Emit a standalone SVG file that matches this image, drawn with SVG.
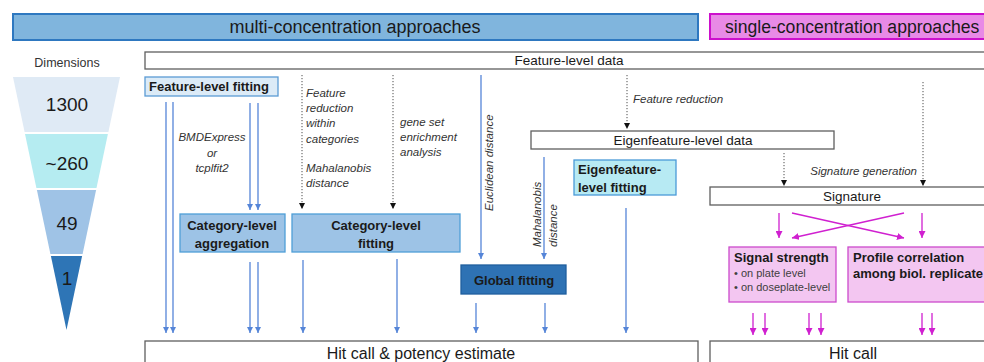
<svg xmlns="http://www.w3.org/2000/svg" width="984" height="362" viewBox="0 0 984 362">
<defs>
<marker id="ab" markerUnits="userSpaceOnUse" markerWidth="6" markerHeight="6" refX="6" refY="3" orient="auto"><path d="M0,0 L6,3 L0,6 z" fill="#5585d8"/></marker>
<marker id="ak" markerUnits="userSpaceOnUse" markerWidth="6" markerHeight="6" refX="6" refY="3" orient="auto"><path d="M0,0 L6,3 L0,6 z" fill="#111"/></marker>
<marker id="am" markerUnits="userSpaceOnUse" markerWidth="7" markerHeight="7" refX="7" refY="3.5" orient="auto"><path d="M0,0 L7,3.5 L0,7 z" fill="#d020d0"/></marker>
<style>
text{font-family:"Liberation Sans",Arial,sans-serif;fill:#1a1a1a}
.b{font-weight:bold;font-size:13px}
.c{text-anchor:middle}
.i{font-style:italic;font-size:11.5px;fill:#333}
.blue{stroke:#5585d8;stroke-width:1.3;fill:none;marker-end:url(#ab)}
.dot{stroke:#222;stroke-width:0.8;stroke-dasharray:1.2 1.8;fill:none;marker-end:url(#ak)}
.mag{stroke:#d020d0;stroke-width:1.3;fill:none;marker-end:url(#am)}
.data{fill:#fff;stroke:#5f5f5f;stroke-width:1.3}
.catbox{fill:#9dc3e6;stroke:#4f9fd8;stroke-width:1.3}
.pink{fill:#f3c6f1;stroke:#cc4acc;stroke-width:1.3}
</style>
</defs>

<g id="header-multi">
<rect x="13" y="14" width="685" height="26" fill="#80b5dd" stroke="#2e78c0" stroke-width="2"/>
<text x="355" y="33" class="c" style="font-size:18px">multi-concentration approaches</text>
</g>
<g id="header-single">
<rect x="710" y="14" width="290" height="25" fill="#e88ae6" stroke="#cc10cc" stroke-width="2"/>
<text x="725" y="33" style="font-size:17.6px">single-concentration approaches</text>
</g>

<g id="dimensions">
<text x="67" y="67" class="c" style="font-size:12.5px;fill:#333">Dimensions</text>
<polygon points="13,77 120,77 108.4,132 24.6,132" fill="#dfeaf5"/>
<polygon points="25,134 107.9,134 96.5,188 36.4,188" fill="#b5ecf1"/>
<polygon points="36.9,190 96.1,190 82.6,254 50.4,254" fill="#9fc3e6"/>
<polygon points="50.9,256 82.1,256 66.5,330" fill="#2e75b6"/>
<text x="67" y="111" class="c" style="font-size:19px">1300</text>
<text x="67" y="170" class="c" style="font-size:19px">~260</text>
<text x="67" y="230" class="c" style="font-size:19px">49</text>
<text x="67" y="285" class="c" style="font-size:19px">1</text>
</g>

<g id="feature-level-data">
<rect x="145" y="52" width="850" height="17" class="data"/>
<text x="569" y="65" class="c" style="font-size:13.5px">Feature-level data</text>
</g>

<g id="feature-level-fitting">
<rect x="145" y="77" width="133" height="19" fill="#dcebf7" stroke="#5b9bd5" stroke-width="1.3"/>
<text x="149" y="91" class="b">Feature-level fitting</text>
</g>

<g id="category-level-aggregation">
<rect x="180" y="214" width="105" height="38" class="catbox"/>
<text x="232" y="230" class="b c">Category-level</text>
<text x="232" y="248" class="b c">aggregation</text>
</g>

<g id="category-level-fitting">
<rect x="292" y="214" width="168" height="38" class="catbox"/>
<text x="376" y="230" class="b c">Category-level</text>
<text x="376" y="248" class="b c">fitting</text>
</g>

<g id="global-fitting">
<rect x="461" y="265" width="105" height="29" fill="#2e72b4" stroke="#1f5f9e" stroke-width="1.3"/>
<text x="514" y="285" class="b c">Global fitting</text>
</g>

<g id="eigenfeature-level-data">
<rect x="531" y="131" width="303" height="18" class="data"/>
<text x="683" y="145" class="c" style="font-size:13.5px">Eigenfeature-level data</text>
</g>

<g id="eigenfeature-level-fitting">
<rect x="574" y="160" width="102" height="35" fill="#b7eaf3" stroke="#4a9ad8" stroke-width="1.3"/>
<text x="578" y="174" class="b">Eigenfeature-</text>
<text x="578" y="192" class="b">level fitting</text>
</g>

<g id="signature">
<rect x="710" y="187" width="285" height="18" class="data"/>
<text x="852" y="201" class="c" style="font-size:13.5px">Signature</text>
</g>

<g id="signal-strength">
<rect x="729" y="247" width="107" height="55" class="pink"/>
<text x="734" y="262" class="b">Signal strength</text>
<text x="734" y="277" style="font-size:11px;fill:#404040">• on plate level</text>
<text x="734" y="291" style="font-size:11px;fill:#404040">• on doseplate-level</text>
</g>

<g id="profile-correlation">
<rect x="848" y="247" width="150" height="55" class="pink"/>
<text x="853" y="262" class="b">Profile correlation</text>
<text x="853" y="278" class="b">among biol. replicate</text>
</g>

<g id="hit-call-potency">
<rect x="145" y="341" width="553" height="30" class="data"/>
<text x="421" y="359" class="c" style="font-size:16px">Hit call &amp; potency estimate</text>
</g>

<g id="hit-call">
<rect x="710" y="341" width="285" height="30" class="data"/>
<text x="853" y="359" class="c" style="font-size:16px">Hit call</text>
</g>

<g id="connectors">
<line x1="166" y1="102" x2="166" y2="333" class="blue"/>
<line x1="173" y1="102" x2="173" y2="333" class="blue"/>
<line x1="250" y1="103" x2="250" y2="210" class="blue"/>
<line x1="258" y1="103" x2="258" y2="210" class="blue"/>
<line x1="250" y1="262" x2="250" y2="333" class="blue"/>
<line x1="258" y1="262" x2="258" y2="333" class="blue"/>
<line x1="303" y1="260" x2="303" y2="333" class="blue"/>
<line x1="397" y1="259" x2="397" y2="333" class="blue"/>
<line x1="481" y1="75" x2="481" y2="259" class="blue"/>
<line x1="544" y1="157" x2="544" y2="259" class="blue"/>
<line x1="476" y1="303" x2="476" y2="333" class="blue"/>
<line x1="545" y1="303" x2="545" y2="333" class="blue"/>
<line x1="626" y1="208" x2="626" y2="333" class="blue"/>

<line x1="302" y1="75" x2="302" y2="209" class="dot"/>
<line x1="393" y1="75" x2="393" y2="209" class="dot"/>
<line x1="627" y1="75" x2="627" y2="129" class="dot"/>
<line x1="784" y1="153" x2="784" y2="186" class="dot"/>
<line x1="923" y1="82" x2="923" y2="186" class="dot"/>

<line x1="779" y1="213" x2="779" y2="238" class="mag"/>
<line x1="922" y1="213" x2="922" y2="238" class="mag"/>
<line x1="792" y1="213" x2="904" y2="238" class="mag"/>
<line x1="904" y1="213" x2="792" y2="238" class="mag"/>
<line x1="753" y1="313" x2="753" y2="335" class="mag"/>
<line x1="765" y1="313" x2="765" y2="335" class="mag"/>
<line x1="809" y1="313" x2="809" y2="335" class="mag"/>
<line x1="821" y1="313" x2="821" y2="335" class="mag"/>
<line x1="922" y1="313" x2="922" y2="335" class="mag"/>
<line x1="932" y1="313" x2="932" y2="335" class="mag"/>

<text x="212" y="141" class="i c">BMDExpress</text>
<text x="212" y="157" class="i c">or</text>
<text x="212" y="172" class="i c">tcplfit2</text>
<text x="306" y="97" class="i">Feature</text>
<text x="306" y="112" class="i">reduction</text>
<text x="306" y="127" class="i">within</text>
<text x="306" y="143" class="i">categories</text>
<text x="306" y="172" class="i">Mahalanobis</text>
<text x="306" y="187" class="i">distance</text>
<text x="400" y="126" class="i">gene set</text>
<text x="400" y="141" class="i">enrichment</text>
<text x="400" y="156" class="i">analysis</text>
<text transform="translate(493,211) rotate(-90)" class="i">Euclidean distance</text>
<text transform="translate(541,247) rotate(-90)" class="i">Mahalanobis</text>
<text transform="translate(557,247) rotate(-90)" class="i">distance</text>
<text x="633" y="103" class="i">Feature reduction</text>
<text x="917" y="175" class="i" style="text-anchor:end">Signature generation</text>
</g>
</svg>
